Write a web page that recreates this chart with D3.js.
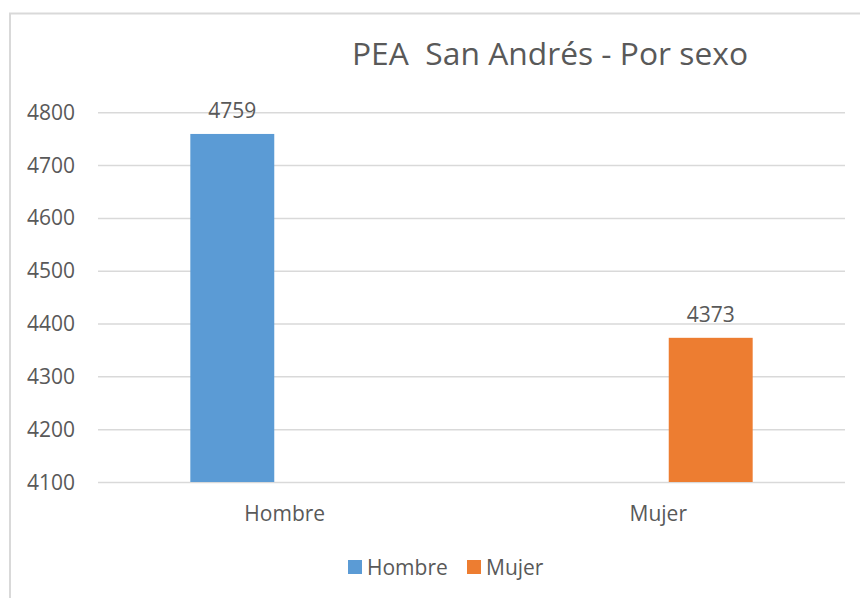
<!DOCTYPE html>
<html>
<head>
<meta charset="utf-8">
<script src="https://cdn.jsdelivr.net/npm/d3@7"></script>
<style>
  html, body { margin: 0; padding: 0; background: #fff; }
  svg { display: block; font-family: "Open Sans", "DejaVu Sans", sans-serif; }
</style>
</head>
<body>
<div id="chart"></div>
<script>
// PEA San Andrés - clustered bars, one value per series
const categories = ['Hombre', 'Mujer'];
const seriesNames = ['Hombre', 'Mujer'];
const seriesColors = ['#5b9bd5', '#ed7d31'];
const hombreValues = [4759, null];
const mujerValues = [null, 4373];
const yTicks = [4100, 4200, 4300, 4400, 4500, 4600, 4700, 4800];

const width = 860, height = 598;
const textColor = '#595959';
const labelSize = '21px';

const svg = d3.select('#chart').append('svg')
    .attr('width', width)
    .attr('height', height);

// chart area border (runs off the right and bottom edge)
svg.append('rect')
    .attr('x', 10)
    .attr('y', 13.5)
    .attr('width', 900)
    .attr('height', 700)
    .attr('fill', 'none')
    .attr('stroke', '#d9d9d9')
    .attr('stroke-width', 2);

const plot = { left: 98, right: 845, top: 112, bottom: 482 };

const y = d3.scaleLinear()
    .domain([4100, 4800])
    .range([plot.bottom, plot.top + 0.3]);

const x0 = d3.scaleBand()
    .domain(categories)
    .range([plot.left, plot.right])
    .padding(0);

const x1 = d3.scaleBand()
    .domain(seriesNames)
    .range([0, x0.bandwidth()])
    .paddingInner(0.2)
    .paddingOuter(0.88);

// gridlines
const grid = svg.append('g')
    .call(d3.axisLeft(y).tickValues(yTicks).tickSize(-(plot.right - plot.left)).tickFormat(''))
    .attr('transform', `translate(${plot.left},0)`);
grid.select('.domain').remove();
grid.selectAll('line').attr('stroke', '#d9d9d9').attr('stroke-width', 1.5);

// y tick labels
svg.append('g').selectAll('text')
    .data(yTicks)
    .enter()
    .append('text')
    .attr('x', 75)
    .attr('y', d => y(d))
    .attr('dy', '0.36em')
    .attr('text-anchor', 'end')
    .attr('font-size', labelSize)
    .attr('fill', textColor)
    .text(d => d);

// bars
const series = [hombreValues, mujerValues];
series.forEach((vals, si) => {
    const rows = categories.map((c, i) => ({ cat: c, value: vals[i] })).filter(d => d.value != null);
    const g = svg.append('g');
    g.selectAll('rect')
        .data(rows)
        .enter()
        .append('rect')
        .attr('x', d => x0(d.cat) + x1(seriesNames[si]))
        .attr('y', d => y(d.value))
        .attr('width', x1.bandwidth())
        .attr('height', d => y(4100) - y(d.value))
        .attr('fill', seriesColors[si]);

    g.selectAll('text')
        .data(rows)
        .enter()
        .append('text')
        .attr('x', d => x0(d.cat) + x1(seriesNames[si]) + x1.bandwidth() / 2)
        .attr('y', d => y(d.value) - 16)
        .attr('text-anchor', 'middle')
        .attr('font-size', labelSize)
        .attr('fill', textColor)
        .text(d => d.value);
});

// category labels
svg.append('g').selectAll('text')
    .data(categories)
    .enter()
    .append('text')
    .attr('x', d => x0(d) + x0.bandwidth() / 2)
    .attr('y', 521)
    .attr('text-anchor', 'middle')
    .attr('font-size', labelSize)
    .attr('fill', textColor)
    .text(d => d);

// title
svg.append('text')
    .attr('x', 550)
    .attr('y', 65)
    .attr('text-anchor', 'middle')
    .attr('font-size', '31px')
    .attr('fill', textColor)
    .attr('textLength', 396)
    .attr('lengthAdjust', 'spacingAndGlyphs')
    .text('PEA  San Andrés - Por sexo')
    .style('white-space', 'pre');

// legend
const legendX = [348, 467];
const legend = svg.append('g');
seriesNames.forEach((name, i) => {
    legend.append('rect')
        .attr('x', legendX[i])
        .attr('y', 560)
        .attr('width', 14)
        .attr('height', 14)
        .attr('fill', seriesColors[i]);
    legend.append('text')
        .attr('x', legendX[i] + 19)
        .attr('y', 575)
        .attr('font-size', labelSize)
        .attr('fill', textColor)
        .text(name);
});
</script>
</body>
</html>
